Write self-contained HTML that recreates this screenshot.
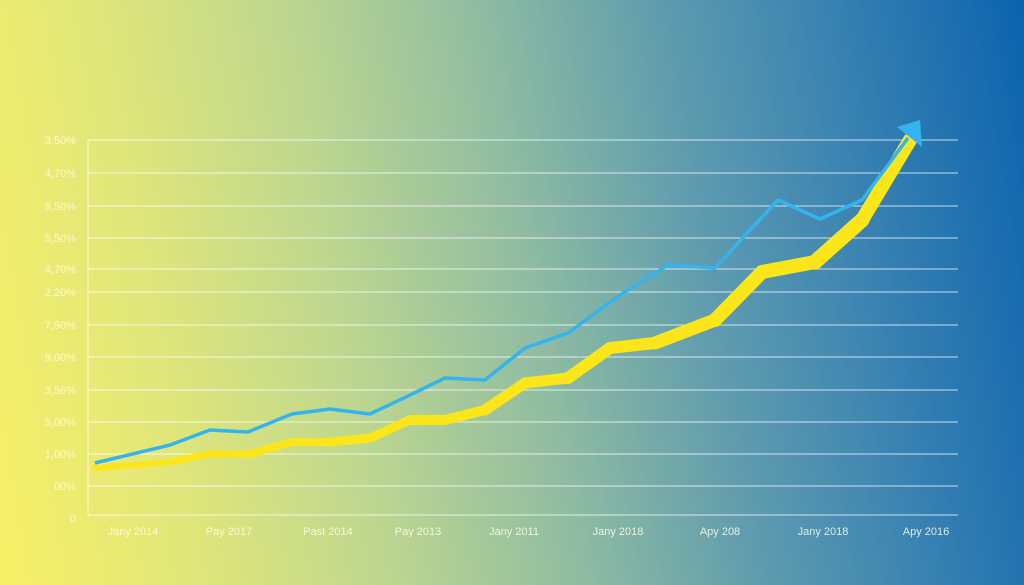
<!DOCTYPE html>
<html><head><meta charset="utf-8"><style>
html,body{margin:0;padding:0}
body{width:1024px;height:585px;overflow:hidden;background:linear-gradient(80deg,#f7f066 0%,#dfe67a 18%,#bcd690 35%,#8ebba2 52%,#5d9bae 68%,#3a83b2 82%,#0b63ae 100%);font-family:"Liberation Sans",sans-serif}
svg{position:absolute;left:0;top:0}
text{fill:#fffde8;font-size:11px;opacity:.85}
</style></head><body>
<svg width="1024" height="585">
<g stroke="#ffffff" stroke-opacity=".6" stroke-width="1.2">
<line x1="88" y1="140" x2="958" y2="140"/><line x1="88" y1="173" x2="958" y2="173"/>
<line x1="88" y1="206" x2="958" y2="206"/><line x1="88" y1="238" x2="958" y2="238"/>
<line x1="88" y1="269" x2="958" y2="269"/><line x1="88" y1="292" x2="958" y2="292"/>
<line x1="88" y1="325" x2="958" y2="325"/><line x1="88" y1="357" x2="958" y2="357"/>
<line x1="88" y1="390" x2="958" y2="390"/><line x1="88" y1="422" x2="958" y2="422"/>
<line x1="88" y1="454" x2="958" y2="454"/><line x1="88" y1="486" x2="958" y2="486"/>
<line x1="88" y1="515" x2="958" y2="515"/><line x1="88" y1="140" x2="88" y2="515"/>
</g>
<g text-anchor="end">
<text x="76" y="144">3,50%</text><text x="76" y="177">4,70%</text><text x="76" y="210">9,50%</text>
<text x="76" y="242">5,50%</text><text x="76" y="273">4,70%</text><text x="76" y="296">2,20%</text>
<text x="76" y="329">7,50%</text><text x="76" y="361">9,00%</text><text x="76" y="394">3,56%</text>
<text x="76" y="426">5,00%</text><text x="76" y="458">1,00%</text><text x="76" y="490">00%</text>
<text x="76" y="522">0</text></g>
<g text-anchor="middle" style="font-size:12px">
<text x="133" y="535">Jany 2014</text><text x="229" y="535">Pay 2017</text><text x="328" y="535">Past 2014</text>
<text x="418" y="535">Pay 2013</text><text x="514" y="535">Jany 2011</text><text x="618" y="535">Jany 2018</text>
<text x="720" y="535">Apy 208</text><text x="823" y="535">Jany 2018</text><text x="926" y="535">Apy 2016</text></g>
<g fill="none" stroke="#fce61a" stroke-linecap="round">
<line x1="95" y1="468" x2="170" y2="462" stroke-width="6"/>
<line x1="170" y1="462" x2="210" y2="454" stroke-width="7"/>
<line x1="210" y1="454" x2="250" y2="454" stroke-width="7"/>
<line x1="250" y1="454" x2="292" y2="442" stroke-width="8"/>
<line x1="292" y1="442" x2="330" y2="442" stroke-width="8"/>
<line x1="330" y1="442" x2="370" y2="438" stroke-width="9"/>
<line x1="370" y1="438" x2="410" y2="420" stroke-width="9"/>
<line x1="410" y1="420" x2="445" y2="420" stroke-width="10"/>
<line x1="445" y1="420" x2="485" y2="410" stroke-width="10"/>
<line x1="485" y1="410" x2="525" y2="383" stroke-width="11"/>
<line x1="525" y1="383" x2="568" y2="378" stroke-width="11"/>
<line x1="568" y1="378" x2="610" y2="348" stroke-width="12"/>
<line x1="610" y1="348" x2="655" y2="343" stroke-width="12"/>
<line x1="655" y1="343" x2="715" y2="320" stroke-width="13"/>
<line x1="715" y1="320" x2="762" y2="272" stroke-width="14"/>
<line x1="762" y1="272" x2="815" y2="262" stroke-width="14"/>
<line x1="815" y1="262" x2="862" y2="220" stroke-width="15"/>
<line x1="862" y1="220" x2="910" y2="140" stroke-width="14"/>
</g>
<polyline fill="none" stroke="#33b4ee" stroke-width="3.5" stroke-linejoin="round" points="95,463 170,445 210,430 248,432 292,414 330,409 370,414 410,395 445,378 485,380 525,348 568,333 620,295 668,265 715,268 778,200 820,219 862,200 908,138"/>
<polygon fill="#33b4ee" points="897,127 920,120 922,147"/>
</svg>
</body></html>
